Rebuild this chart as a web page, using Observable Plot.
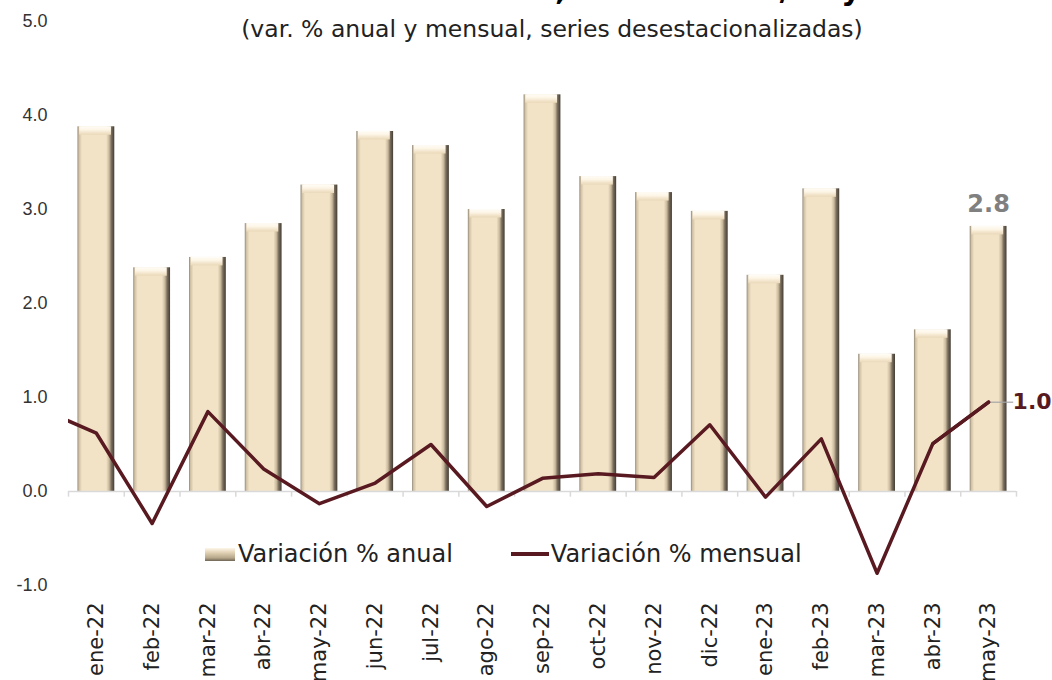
<!DOCTYPE html>
<html><head><meta charset="utf-8">
<script src="https://cdn.jsdelivr.net/npm/d3@7"></script>
<script src="https://cdn.jsdelivr.net/npm/@observablehq/plot@0.6"></script>
<style>
body{margin:0;background:#fff;}
#wrap{position:relative;width:1052px;height:680px;overflow:hidden;background:#fff;}
#title{position:absolute;left:0;width:1104px;top:-28px;text-align:center;font:bold 30px "DejaVu Sans",sans-serif;color:#000;white-space:nowrap;}
#subtitle{position:absolute;left:0;width:1104px;top:15px;text-align:center;font:23.5px "DejaVu Sans",sans-serif;color:#222;white-space:nowrap;}
#chart{position:absolute;left:0;top:0;}
#legend{position:absolute;top:540px;left:205px;font:24px "DejaVu Sans",sans-serif;color:#222;display:flex;align-items:center;white-space:nowrap;}
.sw{display:inline-block;width:30px;height:13px;background:linear-gradient(to bottom,#fdf6e8 0%,#e2d2b5 35%,#b8a88b 75%,#6f6555 100%);margin-right:3px;}
.ln{display:inline-block;width:38px;height:3.5px;background:#581a20;margin-left:58px;margin-right:2px;}
</style>
</head><body>
<div id="wrap">
  <div id="chart"></div>
  <div id="title">Actividad Industrial, 2022 – 2023/mayo</div>
  <div id="subtitle">(var. % anual y mensual, series desestacionalizadas)</div>
  <div id="legend"><span class="sw"></span>Variación % anual<span class="ln"></span>Variación % mensual</div>
</div>
<script>
// ---- data ----
const months = ["ene-22","feb-22","mar-22","abr-22","may-22","jun-22","jul-22","ago-22","sep-22","oct-22","nov-22","dic-22","ene-23","feb-23","mar-23","abr-23","may-23"];
const anual = [3.88,2.38,2.49,2.85,3.26,3.83,3.68,3.00,4.22,3.35,3.18,2.98,2.30,3.22,1.46,1.72,2.82];
const mensual = [0.62,-0.34,0.85,0.24,-0.13,0.09,0.50,-0.16,0.14,0.19,0.15,0.71,-0.06,0.56,-0.87,0.51,0.95];
// previous month (dic-21) only visible as the clipped start of the line
const prevMonth = "dic-21";
const prevMensual = 0.88;
const yTicks = [-1,0,1,2,3,4,5];
const labelAnual = "2.8";
const labelMensual = "1.0";

const bars = months.map((m,i)=>({i, m, v: anual[i]}));
const line = [{i:-1, m: prevMonth, v: prevMensual}, ...months.map((m,i)=>({i, m, v: mensual[i]}))];
const last = months.length - 1;
const boundaries = d3.range(months.length + 1).map(i => i - 0.5);

const half = 0.33;
const capH = 0.09;

const defs = () => {
  const d = d3.create("svg:defs");
  const g = d.append("linearGradient").attr("id","barH").attr("x1",0).attr("x2",1).attr("y1",0).attr("y2",0);
  [["0%","#8f8574"],["4%","#cfc0a4"],["12%","#f2e3c7"],["78%","#f2e3c7"],["86%","#c9b99c"],["92%","#7a6e5e"],["100%","#433d34"]]
    .forEach(([o,c])=>g.append("stop").attr("offset",o).attr("stop-color",c));
  const t = d.append("linearGradient").attr("id","capV").attr("x1",0).attr("x2",0).attr("y1",0).attr("y2",1);
  [["0%","#fffdf8"],["40%","#fdf5e6"],["100%","#ead8b8"]]
    .forEach(([o,c])=>t.append("stop").attr("offset",o).attr("stop-color",c));
  return d.node();
};

const fontCG = "DejaVu Sans, sans-serif";

const chart = Plot.plot({
  width: 1052,
  height: 680,
  marginLeft: 68,
  marginRight: 36,
  marginTop: 21,
  marginBottom: 95,
  style: {background: "transparent", overflow: "visible"},
  x: {type: "linear", domain: [-0.5, months.length - 0.5]},
  y: {domain: [-1, 5]},
  marks: [
    defs,
    Plot.axisY({ticks: yTicks, tickFormat: d => d.toFixed(1), tickSize: 0, tickPadding: 21,
      fontSize: 18, fontFamily: "Liberation Sans, Arial, sans-serif", fill: "#333", label: null}),
    Plot.axisX({ticks: d3.range(months.length), tickFormat: i => months[i], tickRotate: -90,
      tickSize: 0, tickPadding: 17, fontSize: 21, fontFamily: fontCG, fill: "#222", label: null}),
    Plot.rectY(bars, {x1: d => d.i - half, x2: d => d.i + half, y1: 0, y2: d => d.v, fill: "url(#barH)"}),
    Plot.rectY(bars, {x1: d => d.i - half + 0.03, x2: d => d.i + half - 0.06, y1: d => d.v - capH, y2: d => d.v, fill: "url(#capV)"}),
    Plot.ruleY([0], {stroke: "#d9d9d9", strokeWidth: 1.5}),
    Plot.ruleX(boundaries, {y1: 0, y2: -0.06, stroke: "#d9d9d9", strokeWidth: 1.5}),
    Plot.line(line, {x: "i", y: "v", stroke: "#581a20", strokeWidth: 3.5, clip: true}),
    Plot.ruleY([mensual[last]], {y: d => d, x1: last, x2: last + 0.45, stroke: "#a6a6a6", strokeWidth: 1.2}),
    Plot.line(line.slice(-2), {x: "i", y: "v", stroke: "#581a20", strokeWidth: 3.5}),
    Plot.text([anual[last]], {x: last, y: d => d, text: () => labelAnual, dy: -22,
      fontSize: 24, fontWeight: "bold", fill: "#808080", fontFamily: fontCG}),
    Plot.text([mensual[last]], {x: last, y: d => d, text: () => labelMensual, dx: 24, textAnchor: "start",
      fontSize: 22, fontWeight: "bold", fill: "#581a20", fontFamily: fontCG})
  ]
});
document.getElementById("chart").appendChild(chart);
</script>
</body></html>
